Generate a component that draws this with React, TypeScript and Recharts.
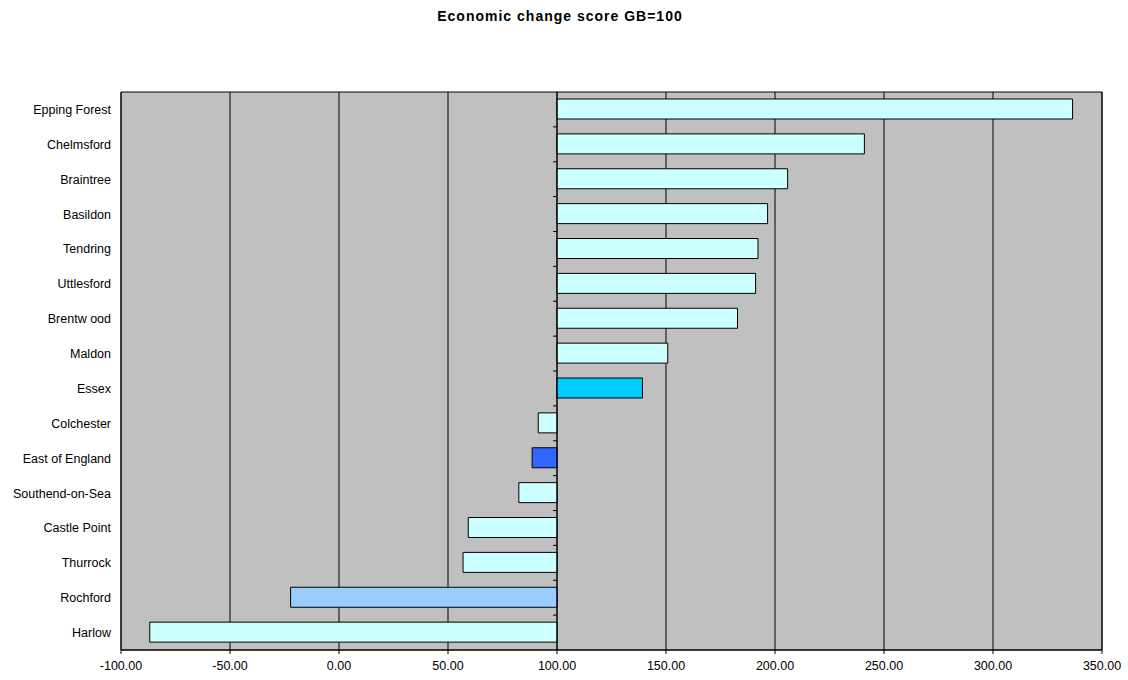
import React from 'react';
import {
  BarChart,
  Bar,
  XAxis,
  YAxis,
  CartesianGrid,
  ReferenceArea,
  ReferenceLine,
  Cell,
} from 'recharts';

const areas = [
  'Epping Forest',
  'Chelmsford',
  'Braintree',
  'Basildon',
  'Tendring',
  'Uttlesford',
  'Brentw ood',
  'Maldon',
  'Essex',
  'Colchester',
  'East of England',
  'Southend-on-Sea',
  'Castle Point',
  'Thurrock',
  'Rochford',
  'Harlow',
];

const scores = [
  336.5, 241.0, 205.8, 196.6, 192.2, 191.1, 182.8, 150.8, 139.2, 91.4, 88.6,
  82.5, 59.3, 56.9, -22.2, -86.8,
];

const barColors = [
  '#CCFFFF', '#CCFFFF', '#CCFFFF', '#CCFFFF', '#CCFFFF', '#CCFFFF', '#CCFFFF',
  '#CCFFFF', '#00CCFF', '#CCFFFF', '#3366FF', '#CCFFFF', '#CCFFFF', '#CCFFFF',
  '#99CCFF', '#CCFFFF',
];

const xTicks = [-100, -50, 0, 50, 100, 150, 200, 250, 300, 350];
const baseline = 100;

const data = areas.map((name, i) => ({
  name,
  range: [Math.min(scores[i], baseline), Math.max(scores[i], baseline)],
}));

const font = 'Arial, "Liberation Sans", sans-serif';

// axis at GB=100 with small marks between the categories
function BaseAxis(props: any) {
  const { x1, y1, y2 } = props;
  const step = (y2 - y1) / areas.length;
  const marks = [];
  for (let i = 1; i < areas.length; i++) {
    const y = y1 + step * i;
    marks.push(<line key={i} x1={x1 - 4} x2={x1} y1={y} y2={y} stroke="#000" />);
  }
  return (
    <g>
      <line x1={x1} x2={x1} y1={y1} y2={y2} stroke="#000" />
      {marks}
    </g>
  );
}

export default function App() {
  return (
    <div style={{ position: 'absolute', left: 0, top: 0, width: 1128, height: 680, fontFamily: font }}>
      <div
        style={{
          position: 'absolute',
          top: 8,
          left: 0,
          width: 1120,
          textAlign: 'center',
          fontWeight: 'bold',
          fontSize: 14,
          letterSpacing: 1,
        }}
      >
        Economic change score GB=100
      </div>
      <BarChart
        width={1128}
        height={680}
        data={data}
        layout="vertical"
        margin={{ top: 92, right: 26, bottom: 5, left: 0 }}
      >
        <CartesianGrid horizontal={false} stroke="#000" fill="#C0C0C0" />
        <XAxis
          type="number"
          domain={[-100, 350]}
          ticks={xTicks}
          tickFormatter={(v: number) => v.toFixed(2)}
          stroke="#000"
          tickSize={4}
          tickMargin={7}
          height={25}
          interval={0}
          tick={{ fill: '#000', fontSize: 12.5, fontFamily: font }}
        />
        <YAxis
          type="category"
          dataKey="name"
          width={121}
          axisLine={false}
          tickLine={false}
          tickMargin={4}
          interval={0}
          tick={{ fill: '#000', fontSize: 12.5, fontFamily: font }}
        />
        <ReferenceArea x1={-100} x2={350} fill="none" stroke="#000" />
        <Bar dataKey="range" barSize={20} stroke="#000" strokeWidth={1} isAnimationActive={false}>
          {data.map((d, i) => (
            <Cell key={d.name} fill={barColors[i]} />
          ))}
        </Bar>
        <ReferenceLine x={baseline} shape={BaseAxis} />
      </BarChart>
    </div>
  );
}
